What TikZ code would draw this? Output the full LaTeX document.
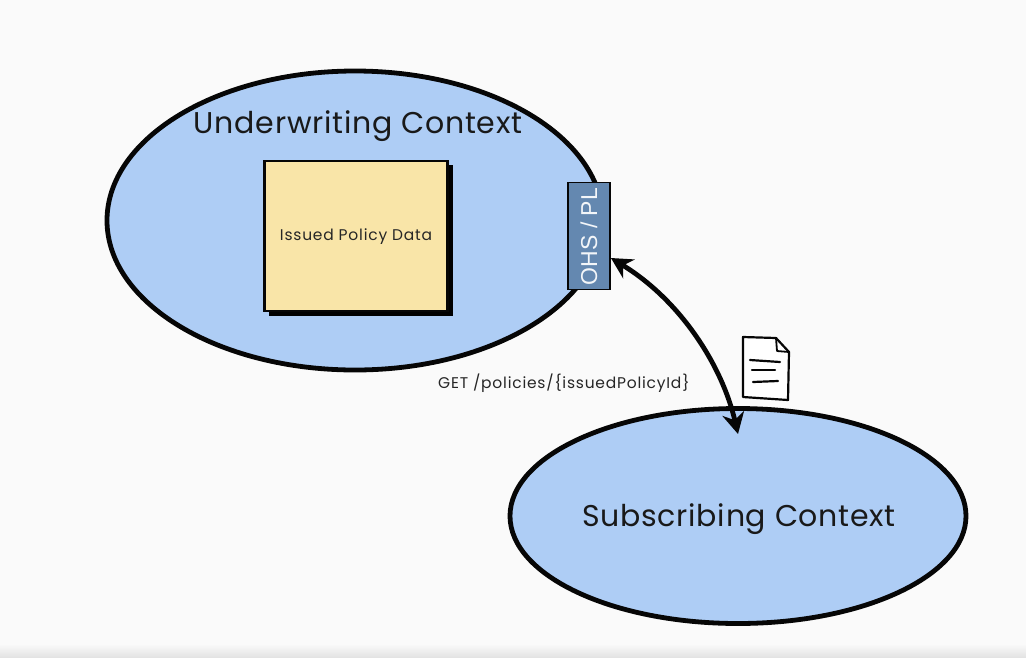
\documentclass[tikz,border=0pt]{standalone}
\usepackage{fontspec}
\setmainfont{Poppins}
\newfontfamily\ctxfont[LetterSpace=2.5]{Poppins}
\newfontfamily\smallfont[LetterSpace=5]{Poppins}
\newfontfamily\ohsfont{Liberation Sans}
\usetikzlibrary{arrows.meta,calc,shapes.geometric}
\definecolor{pagebg}{HTML}{FAFAFA}
\definecolor{ctxblue}{HTML}{AECDF5}
\definecolor{noteyellow}{HTML}{F9E5A8}
\definecolor{ohsblue}{HTML}{6488B0}
\definecolor{inkline}{HTML}{060606}
\tikzset{
  ctx/.style={ellipse,draw=inkline,fill=ctxblue,line width=4.8pt,inner sep=0pt,outer sep=0pt},
  ctxlabel/.style={font=\ctxfont\fontsize{30}{32}\selectfont,text=black!90,inner sep=0pt,anchor=center},
  smalllabel/.style={font=\smallfont\fontsize{15.5}{17}\selectfont,text=black!85,inner sep=0pt},
  note/.style={draw=inkline,fill=noteyellow,line width=2.4pt,minimum width=183pt,minimum height=150pt,inner sep=0pt},
  ohsbox/.style={draw=inkline,fill=ohsblue,line width=1.8pt,minimum width=42pt,minimum height=107pt,inner sep=0pt},
  flow/.style={draw=inkline,line width=4.8pt,{Stealth[length=21pt,width=22pt]}-{Stealth[length=21pt,width=22pt]}},
  docline/.style={draw=inkline,line width=2.2pt,line cap=round}
}
\begin{document}
\begin{tikzpicture}[x=1pt,y=-1pt]
\useasboundingbox (0,0) rectangle (1026,657);
\fill[pagebg] (0,0) rectangle (1026,657);
\shade[top color=pagebg,bottom color=black!11] (0,644) rectangle (1026,657);
% contexts
\node[ctx,minimum width=496pt,minimum height=299pt] (uw) at (355,220.5) {};
\node[ctx,minimum width=456pt,minimum height=215pt] (sub) at (738,516) {};
\node[ctxlabel] (uwt) at (358,126) {Underwriting Context};
\node[ctxlabel] (subt) at (739,519) {Subscribing Context};
% note
\fill[black] (269,165) rectangle (453,316);
\node[note] (policy) at (356,236) {};
\node[smalllabel] (policyt) at (356,237) {Issued Policy Data};
% OHS
\node[ohsbox] (ohs) at (589,236) {};
\node[font=\ohsfont\fontsize{23}{25}\selectfont,text=white!92!ohsblue,rotate=90,inner sep=0pt] (ohst) at (589,236.5) {OHS / PL};
% label
\node[smalllabel,anchor=west] (get) at (438,383) {GET /policies/\{issuedPolicyId\}};
% doc icon
\coordinate (da) at (743,337);
\coordinate (db) at (776,338);
\coordinate (dc) at (789,352);
\coordinate (dd) at (788,400);
\coordinate (de) at (743,397);
\draw[draw=inkline,fill=white,line width=2.2pt,line join=round] (da) -- (db) -- (dc) -- (dd) -- (de) -- cycle;
\draw[draw=inkline,line width=1.8pt,line join=round] (db) -- ($(db)+(1,13)$) -- (dc);
\coordinate (l1a) at (750,360); \coordinate (l1b) at (780,362);
\coordinate (l2a) at (752,370); \coordinate (l2b) at (775,370);
\coordinate (l3a) at (753,382); \coordinate (l3b) at (778,381);
\draw[docline] (l1a) -- (l1b);
\draw[docline] (l2a) -- (l2b);
\draw[docline] (l3a) -- (l3b);
% connector
\coordinate (fromohs) at (ohs.east |- 0,258);
\coordinate (tosub) at (738,434);
\draw[flow] (fromohs) .. controls (680,300) and (722,365) .. (tosub);
\end{tikzpicture}
\end{document}
